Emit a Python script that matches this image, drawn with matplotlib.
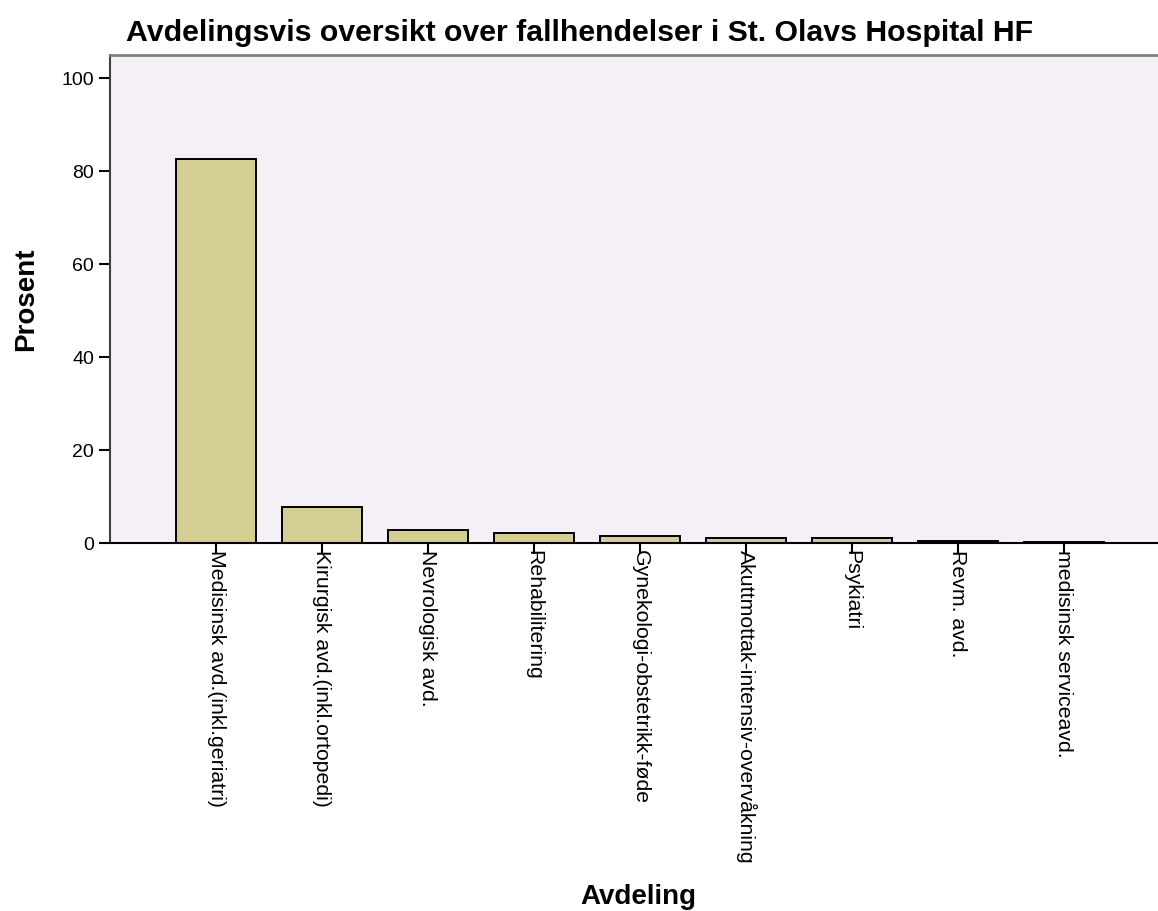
import matplotlib
matplotlib.use("Agg")
import matplotlib.pyplot as plt
import numpy as np

# Data
avdelinger = [
    "Medisinsk avd.(inkl.geriatri)",
    "Kirurgisk avd.(inkl.ortopedi)",
    "Nevrologisk avd.",
    "Rehabilitering",
    "Gynekologi-obstetrikk-føde",
    "Akuttmottak-intensiv-overvåkning",
    "Psykiatri",
    "Revm. avd.",
    "medisinsk serviceavd.",
]
prosent = [82.6, 7.8, 2.8, 2.2, 1.5, 1.1, 1.1, 0.5, 0.3]
yticks = [0, 20, 40, 60, 80, 100]

plt.rcParams["font.family"] = ["Liberation Sans", "DejaVu Sans"]

fig = plt.figure(figsize=(11.58, 9.11), dpi=100)
# axes run slightly past the right edge, as in the reference
ax = fig.add_axes([110 / 1158, 1 - 543 / 911, 1060 / 1158, (543 - 55) / 911])
ax.set_facecolor("#f5f0f5")

x = np.arange(len(avdelinger))
ax.bar(x, prosent, width=0.75, color="#d5ce94", edgecolor="black", linewidth=1.4)

ax.set_xlim(-1, 9)
ax.set_ylim(0, 105)
ax.set_yticks(yticks)
ax.set_xticks(x)
ax.set_xticklabels(avdelinger, rotation=270, ha="center", va="top", fontsize=15.3)
ax.tick_params(axis="y", labelsize=14, length=8, width=1.5, direction="out")
ax.tick_params(axis="x", length=8, width=1.5, direction="out", pad=-3)

ax.spines["top"].set_color("#808080")
ax.spines["top"].set_linewidth(2)
ax.spines["right"].set_visible(False)
ax.spines["left"].set_color("#404040")
ax.spines["left"].set_linewidth(1.5)
ax.spines["bottom"].set_linewidth(1.5)

ax.set_ylabel("Prosent", fontsize=20, fontweight="bold", labelpad=16)
fig.text(638 / 1158, 1 - 897 / 911, "Avdeling", fontsize=20, fontweight="bold",
         ha="center", va="center")
fig.text(580 / 1158, 1 - 33 / 911, "Avdelingsvis oversikt over fallhendelser i St. Olavs Hospital HF",
         fontsize=21.8, fontweight="bold", ha="center", va="center")

fig.savefig("out.png", dpi=100)
